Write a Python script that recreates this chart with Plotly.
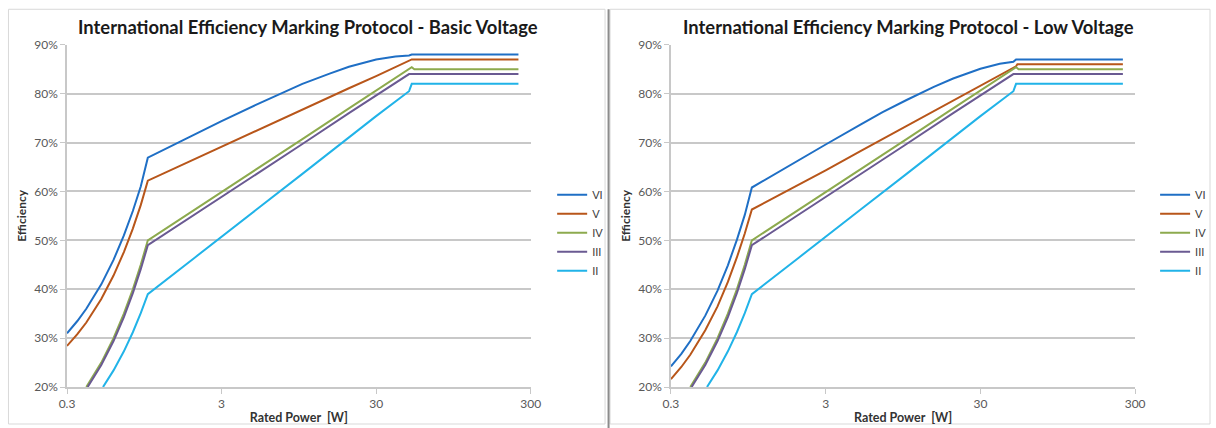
import math
import plotly.graph_objects as go

# ---------------- data ----------------
series_names = ["VI", "V", "IV", "III", "II"]
series_colors = ["#1F6FC5", "#B8561A", "#8DAA4E", "#6A5A92", "#21B3E8"]

# Basic voltage
x_vi_basic = [0.3, 0.35, 0.4, 0.45, 0.5, 0.6, 0.7, 0.8, 0.9, 1.0, 1.5, 2, 3, 5, 7, 10, 15, 20, 30, 40, 49, 51, 250]
eff_vi_basic = [0.31, 0.335, 0.36, 0.385, 0.41, 0.46, 0.51, 0.56, 0.61, 0.669, 0.697, 0.716, 0.744, 0.777, 0.798,
                0.820, 0.841, 0.855, 0.870, 0.876, 0.878, 0.88, 0.88]

x_v_basic = [0.3, 0.35, 0.4, 0.45, 0.5, 0.6, 0.7, 0.8, 0.9, 1.0, 2, 3, 5, 10, 20, 30, 51, 250]
eff_v_basic = [0.284, 0.308, 0.332, 0.356, 0.38, 0.428, 0.476, 0.524, 0.572, 0.622, 0.666, 0.691, 0.723, 0.767,
               0.811, 0.836, 0.87, 0.87]

x_iv = [0.4, 0.45, 0.5, 0.6, 0.7, 0.8, 0.9, 1.0, 2, 3, 5, 10, 20, 30, 51, 53, 250]
eff_iv = [0.20, 0.225, 0.25, 0.30, 0.35, 0.40, 0.45, 0.50, 0.562, 0.599, 0.645, 0.707, 0.770, 0.806, 0.854, 0.85, 0.85]

x_iii = [0.408, 0.45, 0.5, 0.6, 0.7, 0.8, 0.9, 1.0, 2, 3, 5, 10, 20, 30, 49, 250]
eff_iii = [0.20, 0.221, 0.245, 0.294, 0.343, 0.392, 0.441, 0.49, 0.552, 0.589, 0.635, 0.697, 0.760, 0.796, 0.84, 0.84]

x_ii = [0.513, 0.6, 0.7, 0.8, 0.9, 1.0, 2, 3, 5, 10, 20, 30, 49, 51, 250]
eff_ii = [0.20, 0.234, 0.273, 0.312, 0.351, 0.39, 0.464, 0.508, 0.562, 0.636, 0.711, 0.754, 0.805, 0.82, 0.82]

# Low voltage
x_vi_low = [0.3, 0.35, 0.4, 0.45, 0.5, 0.6, 0.7, 0.8, 0.9, 1.0, 1.5, 2, 3, 5, 7, 10, 15, 20, 30, 40, 49, 51, 250]
eff_vi_low = [0.242, 0.268, 0.294, 0.320, 0.346, 0.397, 0.449, 0.501, 0.552, 0.608, 0.641, 0.664, 0.696, 0.736,
              0.762, 0.787, 0.814, 0.831, 0.851, 0.861, 0.865, 0.87, 0.87]

x_v_low = [0.3, 0.35, 0.4, 0.45, 0.5, 0.6, 0.7, 0.8, 0.9, 1.0, 2, 3, 5, 10, 20, 30, 51, 52, 250]
eff_v_low = [0.216, 0.241, 0.266, 0.291, 0.316, 0.365, 0.415, 0.465, 0.514, 0.563, 0.613, 0.643, 0.682, 0.734,
             0.786, 0.816, 0.856, 0.86, 0.86]

x_tick_vals = [0.3, 3, 30, 300]
x_tick_text = ["0.3", "3", "30", "300"]

title_basic = "International Efficiency Marking Protocol - Basic Voltage"
title_low = "International Efficiency Marking Protocol - Low Voltage"
x_title = "Rated Power  [W]"
y_title = "Efficiency"

# ---------------- figure geometry ----------------
OFF = 8                      # default body margin of the page
SX, SY = 1232 / 1216, 443 / 428
W, H = 1224, 435
FONT = "Lato, 'Open Sans', sans-serif"
GRID = "#C8C8C8"
TICKC = "#595959"


def px_x(p):
    return min(max((p * SX - OFF) / W, 0.0), 1.0)


def px_y(p):
    return min(max(1 - (p * SY - OFF) / H, 0.0), 1.0)


basic = [(x_vi_basic, eff_vi_basic), (x_v_basic, eff_v_basic), (x_iv, eff_iv), (x_iii, eff_iii), (x_ii, eff_ii)]
low = [(x_vi_low, eff_vi_low), (x_v_low, eff_v_low), (x_iv, eff_iv), (x_iii, eff_iii), (x_ii, eff_ii)]

fig = go.Figure()
for data, xa, ya, lg in [(basic, "x", "y", "legend"), (low, "x2", "y2", "legend2")]:
    for (xs, ys), name, col in zip(data, series_names, series_colors):
        fig.add_trace(go.Scatter(
            x=xs, y=ys, mode="lines", name=name,
            line=dict(color=col, width=2),
            xaxis=xa, yaxis=ya, legend=lg,
            legendgroup=f"{lg}_{name}",
        ))

xr = [math.log10(0.3), math.log10(300)]
ydom = [px_y(387), px_y(44.5)]


def xaxis_cfg(dom, anchor):
    return dict(
        type="log", range=xr, domain=dom, anchor=anchor,
        tickvals=x_tick_vals, ticktext=x_tick_text,
        showgrid=False, showline=True, linecolor=GRID, linewidth=1.5,
        ticks="outside", ticklen=5, tickcolor=GRID,
        tickfont=dict(family=FONT, size=12, color=TICKC),
        title=dict(text=x_title, font=dict(family=FONT, size=12.5, color="#333333", weight="bold"), standoff=3),
        zeroline=False,
    )


def yaxis_cfg(anchor):
    return dict(
        range=[0.2, 0.9], domain=ydom, anchor=anchor,
        tick0=0.2, dtick=0.1, tickformat=".0%",
        showgrid=True, gridcolor=GRID, gridwidth=1.5,
        showline=True, linecolor=GRID, linewidth=1.5,
        ticks="outside", ticklen=5, tickcolor=GRID,
        tickfont=dict(family=FONT, size=12, color=TICKC),
        title=dict(text=y_title, font=dict(family=FONT, size=12, color="#333333", weight="bold"), standoff=5),
        zeroline=False,
    )


legend_common = dict(
    xanchor="left", yanchor="top", bgcolor="rgba(0,0,0,0)",
    font=dict(family=FONT, size=11, color="#404040"),
    tracegroupgap=0, itemclick=False,
)

fig.update_layout(
    width=W, height=H, autosize=False,
    margin=dict(l=0, r=0, t=0, b=0),
    paper_bgcolor="white", plot_bgcolor="white",
    xaxis=xaxis_cfg([px_x(67), px_x(531.5)], "y"),
    yaxis=yaxis_cfg("x"),
    xaxis2=xaxis_cfg([px_x(672), px_x(1137)], "y2"),
    yaxis2=yaxis_cfg("x2"),
    legend=dict(x=px_x(553), y=px_y(180), **legend_common),
    legend2=dict(x=px_x(1157), y=px_y(180), **legend_common),
    annotations=[
        dict(text=title_basic, x=px_x(308), y=px_y(27), xref="paper", yref="paper",
             showarrow=False, xanchor="center", yanchor="middle",
             font=dict(family=FONT, size=18.4, color="#1A1A1A", weight="bold")),
        dict(text=title_low, x=px_x(910), y=px_y(27), xref="paper", yref="paper",
             showarrow=False, xanchor="center", yanchor="middle",
             font=dict(family=FONT, size=18.4, color="#1A1A1A", weight="bold")),
    ],
    shapes=[
        dict(type="rect", xref="paper", yref="paper", x0=0.0004, x1=px_x(606), y0=px_y(424), y1=px_y(9),
             line=dict(color="#D9D9D9", width=1)),
        dict(type="rect", xref="paper", yref="paper", x0=px_x(611), x1=px_x(1212), y0=px_y(424), y1=px_y(9),
             line=dict(color="#D9D9D9", width=1)),
        dict(type="line", xref="paper", yref="paper", x0=px_x(609.5), x1=px_x(609.5), y0=px_y(428), y1=px_y(9),
             line=dict(color="#8C8C8C", width=2)),
    ],
    showlegend=True,
)

fig.write_html("out.html")
